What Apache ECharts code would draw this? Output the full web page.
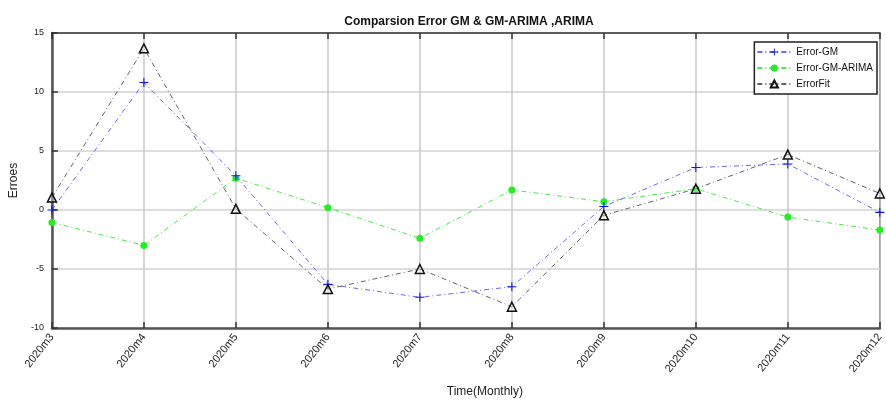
<!DOCTYPE html>
<html><head><meta charset="utf-8">
<script src="https://cdn.jsdelivr.net/npm/echarts@6/dist/echarts.min.js"></script>
<style>html,body{margin:0;padding:0;background:#fff}#c{width:886px;height:403px}</style>
</head><body><div id="c"></div>
<script>
const categories = ['2020m3','2020m4','2020m5','2020m6','2020m7','2020m8','2020m9','2020m10','2020m11','2020m12'];
const errorGM = [0, 10.8, 2.9, -6.3, -7.4, -6.5, 0.3, 3.6, 3.9, -0.2];
const errorGMARIMA = [-1.05, -3.0, 2.7, 0.2, -2.4, 1.7, 0.7, 1.8, -0.6, -1.7];
const errorFit = [1.05, 13.7, 0.1, -6.7, -5.0, -8.2, -0.45, 1.8, 4.7, 1.4];
const yTicks = [-10, -5, 0, 5, 10, 15];

const chart = echarts.init(document.getElementById('c'));
const plus = 'path://M4.4,0 L5.6,0 L5.6,4.4 L10,4.4 L10,5.6 L5.6,5.6 L5.6,10 L4.4,10 L4.4,5.6 L0,5.6 L0,4.4 L4.4,4.4 Z';
const dashDot = [5, 3, 1, 3];
chart.setOption({
  animation: false,
  textStyle: {fontFamily: 'Liberation Sans, Arial, sans-serif'},
  title: {
    text: 'Comparsion Error GM & GM-ARIMA ,ARIMA',
    left: 464, top: 11, textAlign: 'center',
    textStyle: {fontSize: 12, fontWeight: 'bold', color: '#111'}
  },
  legend: {
    orient: 'vertical', right: 9, top: 42,
    backgroundColor: '#fff', borderColor: '#222', borderWidth: 1.5,
    padding: [5, 4, 5, 2], itemGap: 6, itemWidth: 34, itemHeight: 9,
    textStyle: {fontSize: 10, color: '#111'},
    data: ['Error-GM', 'Error-GM-ARIMA', 'ErrorFit']
  },
  grid: {left: 49, right: 0, top: 33, bottom: 74, show: true, borderColor: '#333', borderWidth: 1.5},
  xAxis: [{
    type: 'category', data: categories, boundaryGap: false,
    name: 'Time(Monthly)', nameLocation: 'middle', nameGap: 58,
    nameTextStyle: {fontSize: 12, color: '#222', padding: [0, 0, 0, 38]},
    axisLine: {onZero: false, lineStyle: {color: '#555', width: 2.5}},
    axisTick: {inside: true, length: 6, lineStyle: {color: '#333', width: 1.5}},
    axisLabel: {rotate: 52, fontSize: 11, color: '#222', margin: 7},
    splitLine: {show: true, lineStyle: {color: '#c8c8c8', width: 1.5}}
  }, {
    type: 'category', data: categories, boundaryGap: false, position: 'top',
    axisLine: {onZero: false, lineStyle: {color: '#333', width: 1.5}},
    axisTick: {inside: true, length: 6, lineStyle: {color: '#333', width: 1.5}},
    axisLabel: {show: false}, splitLine: {show: false}
  }],
  yAxis: [{
    type: 'value', min: yTicks[0], max: yTicks[yTicks.length - 1], interval: 5,
    name: 'Erroes', nameLocation: 'middle', nameGap: 29,
    nameTextStyle: {fontSize: 12, color: '#222'},
    axisLine: {show: true, onZero: false, lineStyle: {color: '#555', width: 2.5}},
    axisTick: {show: true, inside: true, length: 6, lineStyle: {color: '#333', width: 1.5}},
    axisLabel: {fontSize: 9, color: '#222', margin: 8},
    splitLine: {show: true, lineStyle: {color: '#ddd', width: 2}}
  }],
  series: [
    {name: 'Error-GM', type: 'line', data: errorGM, symbol: plus, symbolSize: 9,
      itemStyle: {color: '#1010ff'},
      lineStyle: {color: 'rgba(40,40,255,0.7)', width: 1, type: dashDot}, z: 3},
    {name: 'Error-GM-ARIMA', type: 'line', data: errorGMARIMA, symbol: 'circle', symbolSize: 7,
      itemStyle: {color: '#22ee22'},
      lineStyle: {color: 'rgba(40,230,40,0.85)', width: 1, type: dashDot}, z: 2},
    {name: 'ErrorFit', type: 'line', data: errorFit, symbol: 'triangle', symbolSize: 9,
      itemStyle: {color: 'rgba(255,255,255,0.3)', borderColor: '#111', borderWidth: 1.5},
      lineStyle: {color: 'rgba(60,60,60,0.8)', width: 1, type: dashDot}, z: 4}
  ]
});
</script></body></html>
